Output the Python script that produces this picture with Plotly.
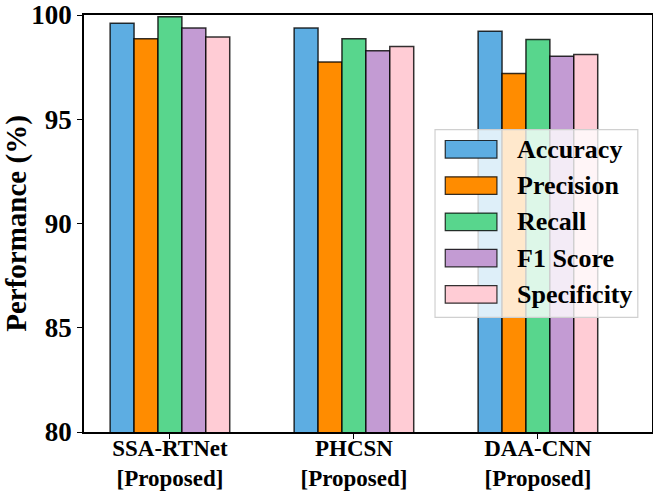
import plotly.graph_objects as go

categories = ["SSA-RTNet<br>[Proposed]", "PHCSN<br>[Proposed]", "DAA-CNN<br>[Proposed]"]
metrics = ["Accuracy", "Precision", "Recall", "F1 Score", "Specificity"]
accuracy = [99.60, 99.38, 99.22]
precision = [98.86, 97.75, 97.20]
recall = [99.92, 98.86, 98.83]
f1_score = [99.38, 98.29, 98.02]
specificity = [98.95, 98.49, 98.10]
y_ticks = [80, 85, 90, 95, 100]

series = [accuracy, precision, recall, f1_score, specificity]
colors = ["#5DADE2", "#FF8C00", "#58D68D", "#C39BD3", "#FFCCD5"]

FONT = "Liberation Serif, Times New Roman, serif"

fig = go.Figure()
for name, vals, col in zip(metrics, series, colors):
    fig.add_trace(go.Bar(
        x=list(range(len(categories))), y=vals, name=name,
        marker=dict(color=col, line=dict(color="rgba(0,0,0,0.8)", width=1.5)),
        showlegend=False,
    ))

# custom legend (wide swatches like the reference)
box_l, box_r, box_t, box_b = 0.618, 0.975, 0.725, 0.275
fig.add_shape(type="rect", xref="paper", yref="paper",
              x0=box_l, x1=box_r, y0=box_b, y1=box_t,
              fillcolor="rgba(255,255,255,0.8)", line=dict(color="#D0D0D0", width=1.2),
              layer="above")
row_y0 = 0.678
row_dy = 0.087
for i, (name, col) in enumerate(zip(metrics, colors)):
    yc = row_y0 - i * row_dy
    fig.add_shape(type="rect", xref="paper", yref="paper",
                  x0=0.636, x1=0.727, y0=yc - 0.021, y1=yc + 0.021,
                  fillcolor=col, line=dict(color="rgba(0,0,0,0.8)", width=1.2),
                  layer="above")
    fig.add_annotation(xref="paper", yref="paper", x=0.758, y=yc,
                       xanchor="left", yanchor="middle", showarrow=False,
                       text=name, font=dict(family=FONT, size=26, color="black", weight="bold"))

fig.update_layout(
    width=653, height=493,
    margin=dict(l=84, r=1, t=15, b=61),
    paper_bgcolor="white", plot_bgcolor="white",
    barmode="group", bargap=0.35, bargroupgap=0,
    font=dict(family=FONT, color="black"),
)
fig.update_xaxes(
    range=[-0.467, 2.62], tickmode="array",
    tickvals=list(range(len(categories))), ticktext=categories,
    tickfont=dict(family=FONT, size=23, color="black", weight="bold"),
    automargin=False, ticklabelstandoff=-10,
    showline=True, linecolor="black", linewidth=1.5, mirror=True,
    ticks="outside", ticklen=5, tickcolor="black", showgrid=False, zeroline=False,
)
fig.update_yaxes(
    range=[80, 100], tickmode="array", tickvals=y_ticks,
    tickfont=dict(family=FONT, size=27, color="black", weight="bold"),
    ticklabeloverflow="allow", automargin=False,
    title=dict(text="Performance (%)", font=dict(family=FONT, size=29, color="black", weight="bold"), standoff=6),
    showline=True, linecolor="black", linewidth=1.5, mirror=True,
    ticks="outside", ticklen=5, tickcolor="black", showgrid=False, zeroline=False,
)

fig.write_html("out.html")
